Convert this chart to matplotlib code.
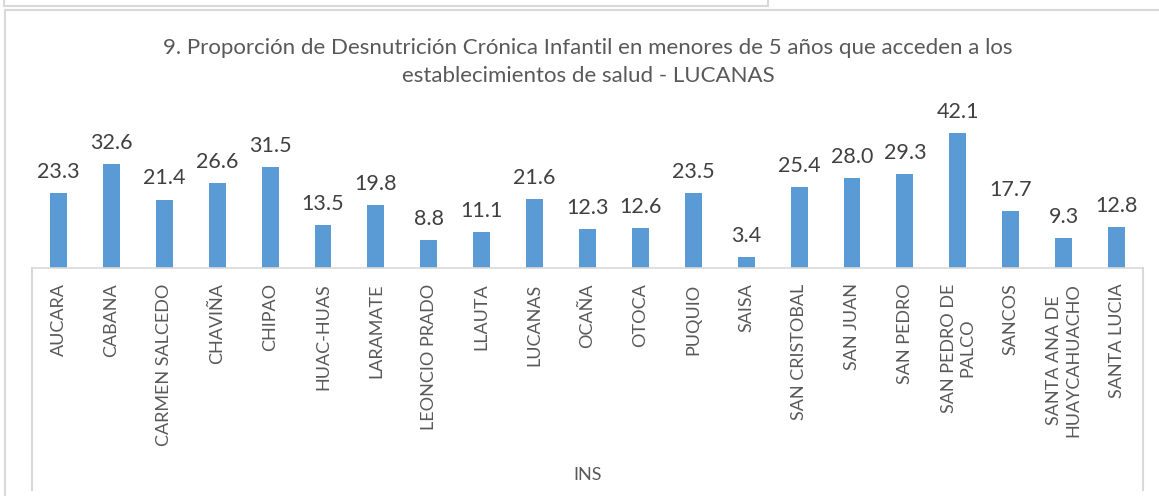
import matplotlib.pyplot as plt
from matplotlib.lines import Line2D

distritos = ['AUCARA', 'CABANA', 'CARMEN SALCEDO', 'CHAVIÑA', 'CHIPAO',
             'HUAC-HUAS', 'LARAMATE', 'LEONCIO PRADO', 'LLAUTA', 'LUCANAS',
             'OCAÑA', 'OTOCA', 'PUQUIO', 'SAISA', 'SAN CRISTOBAL', 'SAN JUAN',
             'SAN PEDRO', 'SAN PEDRO DE\nPALCO', 'SANCOS',
             'SANTA ANA DE\nHUAYCAHUACHO', 'SANTA LUCIA']
valores = [23.3, 32.6, 21.4, 26.6, 31.5, 13.5, 19.8, 8.8, 11.1, 21.6,
           12.3, 12.6, 23.5, 3.4, 25.4, 28.0, 29.3, 42.1, 17.7, 9.3, 12.8]
grupo = 'INS'
titulo = ('9. Proporción de Desnutrición Crónica Infantil en menores de 5 años que acceden a los\n'
          'establecimientos de salud - LUCANAS')

plt.rcParams['font.family'] = ['Lato', 'DejaVu Sans']

W, H = 1159, 496
fig = plt.figure(figsize=(W / 100, H / 100), dpi=100)

# pixel helpers (from top-left)
def fx(px):
    return px / W

def fy(py):
    return 1 - py / H

x0, x1 = 32, 1143
base = 268
ymax = 45
top = base - ymax * 3.2
ax = fig.add_axes([fx(x0), fy(base), fx(x1) - fx(x0), fy(top) - fy(base)])

n = len(distritos)
pos = list(range(n))
bars = ax.bar(pos, valores, width=0.32, color='#5B9BD5')
for p, v in zip(pos, valores):
    ax.annotate(f'{v:.1f}', (p, v), xytext=(0, 8), textcoords='offset points',
                ha='center', va='bottom', fontsize=15.5, color='#404040')

ax.set_xlim(-0.5, n - 0.5)
ax.set_ylim(0, ymax)
ax.set_yticks([])
ax.set_xticks(pos)
ax.set_xticklabels(distritos, rotation=90, va='top', ha='center',
                   fontsize=13, color='#595959')
ax.tick_params(axis='x', length=0, pad=11)
for s in ['top', 'right', 'left']:
    ax.spines[s].set_visible(False)
ax.spines['bottom'].set_color('#D9D9D9')
ax.spines['bottom'].set_linewidth(1.2)

gris = '#D9D9D9'
lineas = [
    # caja de categorias
    ((x0, x0), (base, 447)), ((x0, x0), (449, 490)), ((x1, x1), (base, 490)),
    # marco exterior
    ((5, 5), (10, H)), ((5, W), (10, 10)),
    # caja superior cortada
    ((4, 768), (6, 6)), ((768, 768), (0, 6)), ((4, 4), (0, 6)),
]
for xs, ys in lineas:
    fig.add_artist(Line2D([fx(v) for v in xs], [fy(v) for v in ys],
                          color=gris, lw=1.5))

fig.text(fx((x0 + x1) / 2), fy(475), grupo, ha='center', va='center',
         fontsize=13, color='#595959')
fig.text(fx(588), fy(62), titulo, ha='center', va='center', fontsize=16,
         color='#595959', linespacing=1.45)

fig.savefig('out.png', dpi=100, facecolor='white')
